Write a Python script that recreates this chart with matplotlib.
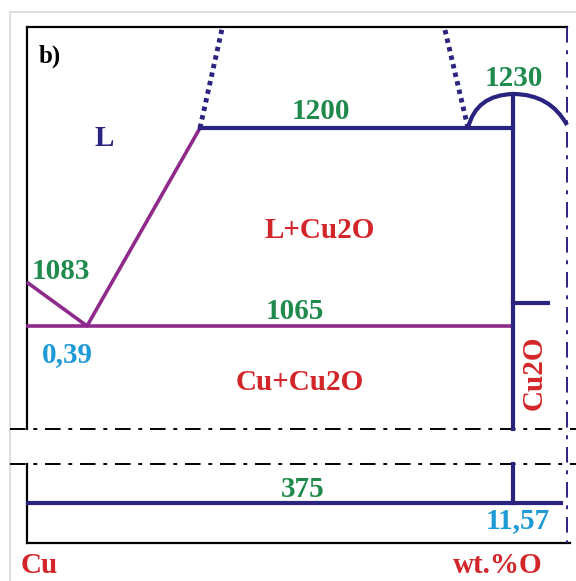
import matplotlib.pyplot as plt
from matplotlib.path import Path
from matplotlib.patches import PathPatch

# Schematic Cu-O phase diagram (diagram coordinates: x = composition axis, y = temperature axis, drawn top-down)
x_cu, x_eut, x_mono, x_l2, x_cu2o, x_right = 28, 87, 200, 468, 513, 567
y_1230, y_1200, y_1083, y_1065, y_375 = 94, 128, 283, 326, 503
y_top, y_break1, y_break2, y_bottom = 27, 429, 464, 543

iso_labels = ['1230', '1200', '1083', '1065', '375']
comp_labels = ['0,39', '11,57']

navy = '#2b2380'
purple = '#8e2a8c'
green = '#1f8a4c'
red = '#d3262a'
blue = '#1e9ad6'

plt.rcParams['font.family'] = ['Liberation Serif', 'DejaVu Serif']

fig = plt.figure(figsize=(5.76, 5.81), dpi=100)
ax = fig.add_axes([0, 0, 1, 1])
ax.set_xlim(0, 576)
ax.set_ylim(581, 0)
ax.axis('off')

# image border
ax.plot([10, 10, 576], [581, 12, 12], color='#d9d9d9', lw=1.2)

# black frame
ax.plot([x_cu - 1, x_cu - 1], [y_top, y_break1], color='black', lw=1.6)
ax.plot([x_cu - 1, x_cu - 1], [y_break2, y_bottom], color='black', lw=1.6)
ax.plot([x_cu - 1, x_right], [y_top, y_top], color='black', lw=1.6)
ax.plot([x_cu - 1, 570], [y_bottom, y_bottom], color='black', lw=1.6)

# axis break
for yb in (y_break1, y_break2):
    ax.plot([10, 576], [yb, yb], color='black', lw=1.4, ls=(0, (8, 4, 2, 4)))
ax.plot([x_right, x_right], [y_top, y_bottom], color=navy, lw=1.4, ls=(0, (8, 4, 2, 4)))

# liquidus lines
ax.plot([x_cu, x_eut, x_mono], [y_1083, y_1065, y_1200], color=purple, lw=2.6, solid_capstyle='round')
ax.plot([x_cu, x_cu2o], [y_1065, y_1065], color=purple, lw=2.6)

# monotectic and dotted miscibility gap
ax.plot([x_mono, x_cu2o], [y_1200, y_1200], color=navy, lw=3)
ax.plot([x_mono, 222], [y_1200, y_top + 2], color=navy, lw=3.5, ls=(0, (0.9, 0.9)))
ax.plot([x_l2, 445], [y_1200, y_top + 3], color=navy, lw=3.5, ls=(0, (0.9, 0.9)))

# Cu2O liquidus dome
dome = Path([(x_l2, y_1200), (476, y_1230 + 1), (x_cu2o, y_1230),
             (550, y_1230), (x_right, 125)],
            [Path.MOVETO, Path.CURVE3, Path.CURVE3, Path.CURVE3, Path.CURVE3])
ax.add_patch(PathPatch(dome, fill=False, edgecolor=navy, lw=3))

# Cu2O compound line
ax.plot([x_cu2o, x_cu2o], [y_1230, y_break1], color=navy, lw=3)
ax.plot([x_cu2o, x_cu2o], [y_break2, y_375], color=navy, lw=3)
ax.plot([x_cu2o, 548], [303, 303], color=navy, lw=3)

# 375 line
ax.plot([x_cu, 561], [y_375, y_375], color=navy, lw=3)

# labels
fs = 21
kw = dict(fontweight='bold', ha='center', va='baseline')
ax.text(50, 63, 'b)', color='black', fontsize=18, **kw)
ax.text(104, 146, 'L', color=navy, fontsize=fs, **kw)
ax.text(514, 86, iso_labels[0], color=green, fontsize=fs, **kw)
ax.text(321, 119, iso_labels[1], color=green, fontsize=fs, **kw)
ax.text(61, 279, iso_labels[2], color=green, fontsize=fs, **kw)
ax.text(295, 319, iso_labels[3], color=green, fontsize=fs, **kw)
ax.text(303, 497, iso_labels[4], color=green, fontsize=fs, **kw)
ax.text(67, 362, comp_labels[0], color=blue, fontsize=fs, **kw)
ax.text(518, 528, comp_labels[1], color=blue, fontsize=fs, **kw)
ax.text(320, 238, 'L+Cu2O', color=red, fontsize=fs, **kw)
ax.text(300, 390, 'Cu+Cu2O', color=red, fontsize=fs, **kw)
ax.text(534, 373, 'Cu2O', color=red, fontsize=fs, fontweight='bold',
        rotation=90, ha='center', va='center')
ax.text(39, 573, 'Cu', color=red, fontsize=fs, **kw)
ax.text(498, 573, 'wt.%O', color=red, fontsize=fs, **kw)

fig.savefig('out.png', dpi=100)
